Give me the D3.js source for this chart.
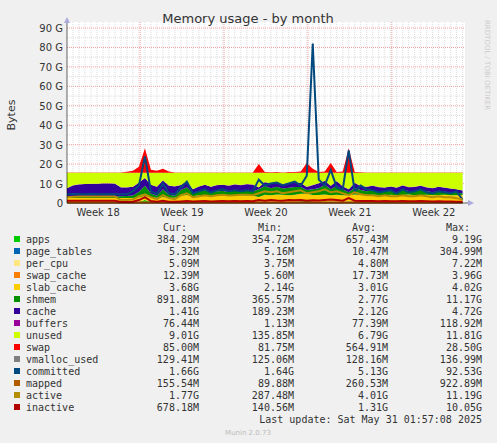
<!DOCTYPE html>
<meta charset="utf-8">
<style>
body{margin:0;background:#f0f0f0;font-family:"DejaVu Sans",sans-serif;}
</style>
<body>
<div id="chart"></div>
<script src="https://d3js.org/d3.v7.min.js"></script>
<script>

// samples every 12 hours, values in GB
var weeks = ["Week 18","Week 19","Week 20","Week 21","Week 22"];
var weekStarts = [6.1, 13.1, 20.1, 27.1];
var ramTotal = 15.6;

var apps = [0.5,0.5,0.5,0.5,0.5,0.5,0.5,0.5,0.5,0.5,0.5,0.5,0.6,1.5,0.6,0.5,0.8,0.5,0.5,
  0.5,0.6,0.5,0.5,0.5,0.5,0.5,0.5,0.5,0.5,0.5,0.5,0.5,0.5,0.6,0.5,0.5,0.6,0.5,0.5,0.8,1.5,0.6,0.5,0.5,0.6,0.5,0.5,0.7,0.5,0.5,0.5,0.5,0.5,0.5,0.5,0.5,0.5,0.5,0.5,0.5,0.5,0.5,0.5,0.5,0.5,0.4,0.38];
var slab_cache = [2.0,2.0,2.0,2.0,2.0,2.0,2.0,2.0,2.0,2.0,2.1,2.1,2.2,2.3,2.2,2.2,2.3,2.2,2.2,
  3.2,3.5,3.0,3.4,3.5,3.3,3.5,3.4,3.3,3.5,3.4,3.3,3.2,2.5,3.6,3.5,3.8,3.6,3.5,3.7,3.9,3.2,3.5,3.6,3.8,3.4,3.7,3.5,3.3,3.8,3.6,3.5,3.7,3.6,3.4,3.7,3.5,3.6,3.8,3.5,3.6,3.7,3.5,3.6,3.7,3.5,3.6,3.68];
var shmem = [1.0,1.0,1.0,1.0,1.0,1.0,1.0,1.0,1.0,1.0,1.0,1.2,3.0,5.0,2.0,1.0,4.0,1.5,1.0,
  3.0,4.0,1.5,2.0,2.5,1.5,2.0,2.2,1.8,2.5,2.0,2.5,2.2,4.0,4.5,3.5,4.0,3.2,3.8,4.0,3.5,2.0,3.0,3.5,5.0,3.0,4.5,3.0,1.5,3.5,2.5,2.0,2.5,1.5,2.0,2.0,1.5,2.5,1.8,2.0,2.5,1.8,1.5,2.0,1.6,1.5,1.2,0.89];
var cache = [4.0,5.5,6.0,6.2,6.3,6.3,6.5,6.5,6.4,4.5,4.4,4.5,4.6,4.0,4.5,4.6,4.5,4.7,4.8,
  2.5,3.0,2.0,2.5,2.8,3.0,3.1,3.2,3.3,3.0,3.2,3.3,3.5,1.0,2.0,2.5,2.0,2.2,2.5,2.3,2.0,1.5,2.0,2.5,2.0,1.8,2.5,1.5,1.5,2.5,2.0,2.3,2.2,2.5,2.0,2.2,2.3,2.4,2.0,2.2,2.3,2.0,2.1,2.2,2.0,1.9,1.8,1.41];
var swap = [0.08,0.08,0.08,0.08,0.08,0.08,0.08,0.08,0.08,0.08,0.5,1.0,3.0,12.5,1.5,1.0,2.0,0.6,0.1,
  0.1,0.1,0.1,0.1,0.1,0.1,0.1,0.1,0.1,0.1,0.1,0.1,0.1,4.5,0.4,0.2,0.3,0.1,0.4,0.3,0.6,5.0,2.0,0.4,0.6,5.0,0.4,0.6,12.5,0.4,0.2,0.1,0.1,0.1,0.1,0.1,0.1,0.1,0.1,0.1,0.1,0.1,0.1,0.1,0.1,0.1,0.1,0.085];
var page_tables = new Array(67).fill(0.01);
var per_cpu = new Array(67).fill(0.005);
var swap_cache = new Array(67).fill(0.02);
var buffers = new Array(67).fill(0.08);

var committed = [4.5,4.6,4.6,4.5,4.6,4.6,4.5,4.6,4.5,4.5,4.5,6.0,9.0,24.0,6.0,4.5,10.0,5.0,4.5,
  8.0,11.0,5.0,6.0,7.0,5.5,6.5,7.0,6.0,6.5,6.0,6.5,6.0,12.0,9.0,10.0,10.5,9.0,10.0,11.0,9.0,14.0,82.0,12.0,9.0,17.0,8.0,7.0,27.0,6.0,9.0,7.0,6.5,5.5,6.0,6.5,5.0,7.0,5.5,6.0,7.0,5.5,5.0,6.0,5.5,5.0,6.0,1.66];
var active = [3.0,3.2,3.3,3.3,3.4,3.4,3.3,3.4,3.3,1.5,1.5,1.8,3.5,4.5,3.0,2.0,4.0,2.5,2.0,
  4.0,5.0,3.0,3.5,4.0,3.5,4.0,4.2,3.8,4.0,4.2,4.3,4.0,5.0,6.0,5.5,6.0,5.0,5.5,6.0,6.5,5.0,5.5,6.0,7.0,5.5,6.0,5.0,4.0,5.5,4.5,4.0,4.0,3.5,4.0,3.5,3.5,4.0,3.5,3.5,4.0,3.5,3.0,3.5,3.0,3.0,2.5,1.77];
var inactive = [1.2,1.2,1.2,1.2,1.2,1.2,1.2,1.2,1.2,0.5,0.5,0.6,1.5,3.0,1.0,0.6,1.2,0.7,0.6,
  0.8,1.0,0.8,0.9,1.0,0.8,0.9,1.0,0.9,1.0,0.9,1.0,0.9,1.5,1.2,1.5,1.3,1.2,1.5,1.4,1.6,1.2,1.4,1.3,1.6,1.8,1.5,1.2,2.5,1.2,1.0,1.0,1.0,0.9,1.0,0.9,0.9,1.0,0.9,0.9,1.0,0.9,0.8,0.9,0.8,0.8,0.7,0.68];
var mapped = new Array(67).fill(0.25);
var vmalloc_used = new Array(67).fill(0.13);

var names = ["apps","page_tables","per_cpu","swap_cache","slab_cache","shmem","cache","buffers","unused","swap","vmalloc_used","committed","mapped","active","inactive"];
var colors = ["#00cc00","#0066b3","#ffe680","#ff8000","#ffcc00","#008f00","#330099","#990099","#ccff00","#ff0000","#808080","#00487d","#b35a00","#b38f00","#b30000"];
var cur = ["384.29M","5.32M","5.09M","12.39M","3.68G","891.88M","1.41G","76.44M","9.01G","85.00M","129.41M","1.66G","155.54M","1.77G","678.18M"];
var mins = ["354.72M","5.16M","3.75M","5.60M","2.14G","365.57M","189.23M","1.13M","135.85M","81.75M","125.06M","1.64G","89.88M","287.48M","140.56M"];
var avgs = ["657.43M","10.47M","4.80M","17.73M","3.01G","2.77G","2.12G","77.39M","6.79G","564.91M","128.16M","5.13G","260.53M","4.01G","1.31G"];
var maxs = ["9.19G","304.99M","7.22M","3.96G","4.02G","11.17G","4.72G","118.92M","11.81G","28.50G","136.99M","92.53G","922.89M","11.19G","10.05G"];

var W = 497, H = 443;
var pLeft = 67, pRight = 465, pTop = 28, pBottom = 203;

var rows = apps.map(function(d, i) {
  var r = {t: i / 2, apps: apps[i], page_tables: page_tables[i], per_cpu: per_cpu[i], swap_cache: swap_cache[i],
    slab_cache: slab_cache[i], shmem: shmem[i], cache: cache[i], buffers: buffers[i], swap: swap[i]};
  // unused is what is left of physical memory, as munin computes it
  r.unused = Math.max(0, ramTotal - (r.apps + r.page_tables + r.per_cpu + r.swap_cache + r.slab_cache + r.shmem + r.cache + r.buffers));
  return r;
});

var svg = d3.select("#chart").append("svg").attr("width", W).attr("height", H)
  .style("font-family", "DejaVu Sans, sans-serif");

var x = d3.scaleLinear().domain([0, 33.2]).range([pLeft, pRight]);
var y = d3.scaleLinear().domain([0, 90]).range([pBottom, pTop]);

svg.append("rect").attr("x", pLeft).attr("y", pTop - 6).attr("width", pRight - pLeft).attr("height", pBottom - pTop + 6).attr("fill", "#fff");

// grid
var g = svg.append("g");
d3.range(0.5, 33.2, 0.5).forEach(function(t) {
  g.append("line").attr("x1", x(t)).attr("x2", x(t)).attr("y1", pTop - 6).attr("y2", pBottom)
    .attr("stroke", "#ddd").attr("stroke-dasharray", "1,1");
});
d3.range(5, 95, 5).forEach(function(v) {
  g.append("line").attr("x1", pLeft).attr("x2", pRight).attr("y1", y(v)).attr("y2", y(v))
    .attr("stroke", v % 10 ? "#ddd" : "#f0a0a0").attr("stroke-dasharray", "1,1");
});
weekStarts.forEach(function(t) {
  g.append("line").attr("x1", x(t)).attr("x2", x(t)).attr("y1", pTop - 6).attr("y2", pBottom)
    .attr("stroke", "#f0a0a0").attr("stroke-dasharray", "1,1");
});

var stackKeys = names.slice(0, 10);
var stack = d3.stack().keys(stackKeys)(rows);
var area = d3.area().x(function(d) { return x(d.data.t); }).y0(function(d) { return y(d[0]); }).y1(function(d) { return y(d[1]); });
svg.selectAll(".a").data(stack).enter().append("path")
  .attr("d", area).attr("fill", function(d, i) { return colors[i]; });

var lineSeries = [vmalloc_used, committed, mapped, active, inactive];
var line = d3.line().x(function(d, i) { return x(i / 2); }).y(function(d) { return y(d); });
lineSeries.forEach(function(s, k) {
  svg.append("path").attr("d", line(s)).attr("fill", "none")
    .attr("stroke", colors[10 + k]).attr("stroke-width", 2);
});

// axes
svg.append("line").attr("x1", pLeft).attr("x2", pRight + 6).attr("y1", pBottom).attr("y2", pBottom).attr("stroke", "#000").attr("stroke-width", 0.6);
svg.append("line").attr("x1", pLeft).attr("x2", pLeft).attr("y1", pBottom).attr("y2", pTop - 8).attr("stroke", "#000").attr("stroke-width", 0.6);
svg.append("path").attr("d", "M" + (pRight + 3) + "," + (pBottom - 3) + "L" + (pRight + 9) + "," + pBottom + "L" + (pRight + 3) + "," + (pBottom + 3) + "Z").attr("fill", "#aaaadd");
svg.append("path").attr("d", "M" + (pLeft - 3) + "," + (pTop - 5) + "L" + pLeft + "," + (pTop - 11) + "L" + (pLeft + 3) + "," + (pTop - 5) + "Z").attr("fill", "#aaaadd");

d3.range(0, 100, 10).forEach(function(v) {
  svg.append("text").attr("x", pLeft - 4).attr("y", y(v) + 4).attr("text-anchor", "end")
    .attr("font-size", 10).attr("fill", "#333").text(v === 0 ? "0" : v + " G");
});
weeks.forEach(function(w, i) {
  svg.append("text").attr("x", x(2.6 + 7 * i)).attr("y", 216).attr("text-anchor", "middle")
    .attr("font-size", 10).attr("fill", "#333").text(w);
});

svg.append("text").attr("x", 248).attr("y", 23).attr("text-anchor", "middle").attr("font-size", 13).attr("fill", "#333").text("Memory usage - by month");
svg.append("text").attr("transform", "translate(15,115) rotate(-90)").attr("text-anchor", "middle").attr("font-size", 11).attr("fill", "#333").text("Bytes");
svg.append("text").attr("transform", "translate(485,20) rotate(90)").attr("font-size", 7).attr("fill", "#ccc").text("RRDTOOL / TOBI OETIKER");

// legend
var lg = svg.append("g").attr("font-family", "DejaVu Sans Mono, monospace").attr("font-size", 10).attr("fill", "#333");
var cols = [199, 294, 388, 482];
["Cur:", "Min:", "Avg:", "Max:"].forEach(function(h, i) {
  lg.append("text").attr("x", cols[i] - 12).attr("y", 231).attr("text-anchor", "end").text(h);
});
names.forEach(function(n, i) {
  var yy = 243 + 12 * i;
  lg.append("rect").attr("x", 14).attr("y", yy - 7).attr("width", 6).attr("height", 6).attr("fill", colors[i]);
  lg.append("text").attr("x", 26).attr("y", yy).text(n);
  [cur, mins, avgs, maxs].forEach(function(arr, k) {
    lg.append("text").attr("x", cols[k]).attr("y", yy).attr("text-anchor", "end").text(arr[i]);
  });
});
lg.append("text").attr("x", 482).attr("y", 423).attr("text-anchor", "end").text("Last update: Sat May 31 01:57:08 2025");
svg.append("text").attr("x", 248).attr("y", 435).attr("text-anchor", "middle").attr("font-size", 7).attr("fill", "#bbb").text("Munin 2.0.73");

</script>
</body>
